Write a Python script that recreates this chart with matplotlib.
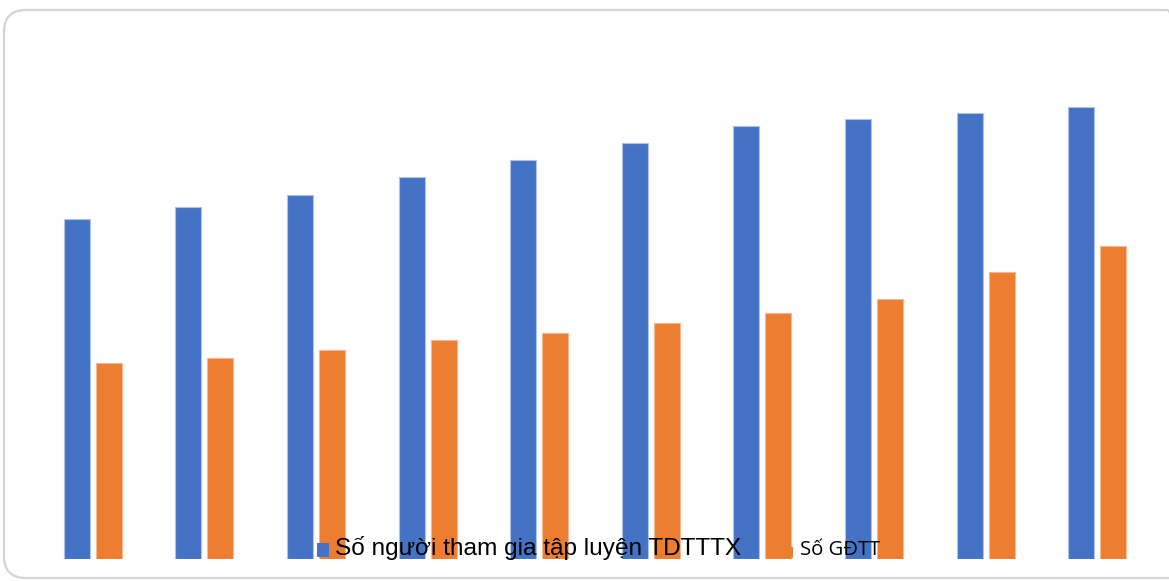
import numpy as np
import matplotlib.pyplot as plt
from matplotlib.patches import FancyBboxPatch, Rectangle

# Ten groups, two series (arbitrary units)
groups = np.arange(10)
so_nguoi_tap = [340, 352, 364, 382, 399, 416, 433, 440, 446, 452]
so_gdtt = [196, 201, 209, 219, 226, 236, 246, 260, 287, 313]

label_tap = "Số người tham gia tập luyện TDTTTX"
label_gdtt = "Số GĐTT"

blue = "#4472C4"
orange = "#ED7D31"

fig = plt.figure(figsize=(11.69, 5.81), dpi=100)

# rounded chart-area border
frame = FancyBboxPatch((4, 3), 1185, 568,
                       boxstyle="round,pad=0,rounding_size=22",
                       transform=None, facecolor="none",
                       edgecolor="#d4d4d4", linewidth=1.6, zorder=-1)
fig.patches.append(frame)

ax = fig.add_axes([37 / 1169, 22 / 581, 1116 / 1169, 519 / 581])
ax.patch.set_alpha(0)

w = 0.233
off = 0.143
ax.bar(groups - off, so_nguoi_tap, width=w, color=blue,
       edgecolor="#aec3ea", linewidth=0.8)
ax.bar(groups + off, so_gdtt, width=w, color=orange,
       edgecolor="#f7b88e", linewidth=0.8)

ax.set_xlim(-0.5, 9.5)
ax.set_ylim(0, 519)
ax.axis("off")

# legend keys + labels, placed in pixels and drawn over the bars
fig.patches.append(Rectangle((317, 24), 12, 14, transform=None,
                             facecolor=blue, edgecolor="none", zorder=2))
fig.text(335 / 1169, 26 / 581, label_tap, ha="left", va="baseline",
         family="Liberation Sans", fontsize=17.6, color="black", zorder=3)

fig.patches.append(Rectangle((781, 23), 12, 11, transform=None,
                             facecolor=orange, edgecolor="none", zorder=2))
fig.text(800 / 1169, 26 / 581, label_gdtt, ha="left", va="baseline",
         family="Open Sans", fontsize=14.6, color="black", zorder=3)

fig.savefig("out.png", dpi=100)
